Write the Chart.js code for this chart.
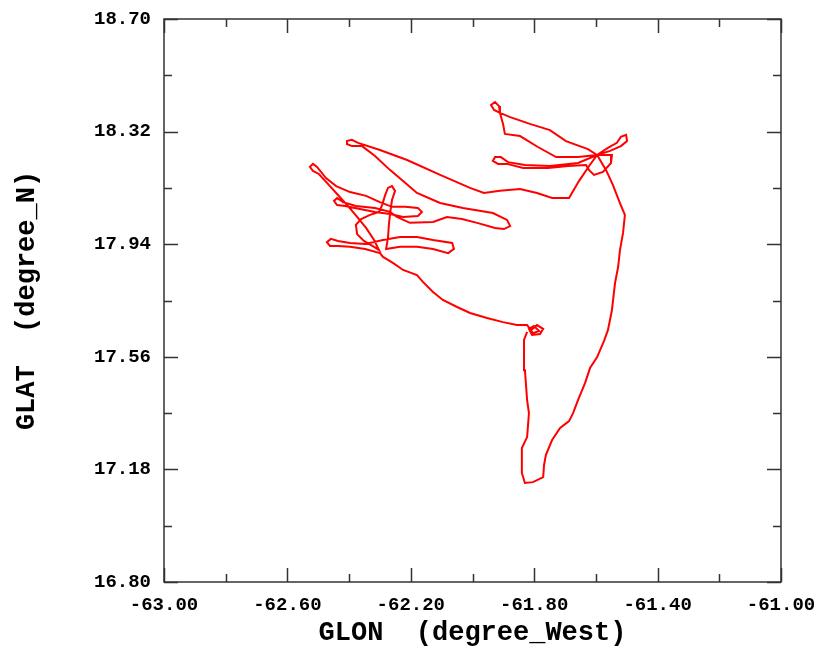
<!DOCTYPE html>
<html>
<head>
<meta charset="utf-8">
<title>GLAT vs GLON</title>
<script src="https://cdn.jsdelivr.net/npm/chart.js@4/dist/chart.umd.min.js"></script>
<style>
  html, body { margin: 0; padding: 0; background: #ffffff; }
  #wrap { width: 820px; height: 651px; }
</style>
</head>
<body>
<div id="wrap"><canvas id="chartCanvas" width="820" height="651"></canvas></div>
<script>
// Flight track (longitude, latitude)
const glon = [
  -61.810, -61.791, -61.771, -61.781, -61.807, -61.817, -61.801, -61.784, -61.804, -61.823,
  -61.856, -61.901, -61.953, -62.008, -62.050, -62.096, -62.128, -62.160, -62.180, -62.225,
  -62.258, -62.290, -62.300, -62.348, -62.397, -62.436, -62.462, -62.472, -62.459, -62.436,
  -62.397, -62.348, -62.290, -62.235, -62.180, -62.128, -62.066, -62.060, -62.079, -62.128,
  -62.180, -62.235, -62.280, -62.274, -62.271, -62.267, -62.261, -62.251, -62.261, -62.274,
  -62.284, -62.293, -62.303, -62.332, -62.361, -62.378, -62.374, -62.352, -62.319, -62.303,
  -62.319, -62.345, -62.374, -62.404, -62.436, -62.468, -62.498, -62.517, -62.527, -62.517,
  -62.504, -62.475, -62.442, -62.397, -62.345, -62.300, -62.261, -62.219, -62.177, -62.164,
  -62.177, -62.225, -62.267, -62.316, -62.365, -62.413, -62.439, -62.449, -62.439, -62.420,
  -62.378, -62.316, -62.267, -62.245, -62.203, -62.128, -62.083, -62.034, -61.985, -61.927,
  -61.898, -61.878, -61.888, -61.934, -62.031, -62.105, -62.180, -62.225, -62.267, -62.316,
  -62.358, -62.391, -62.407, -62.407, -62.391, -62.371, -62.300, -62.212, -62.105, -62.008,
  -61.963, -61.911, -61.846, -61.791, -61.742, -61.687, -61.655, -61.622, -61.596, -61.561,
  -61.532, -61.519, -61.502, -61.499, -61.519, -61.554, -61.596, -61.626, -61.697, -61.749,
  -61.814, -61.878, -61.911, -61.930, -61.940, -61.927, -61.914, -61.911, -61.901, -61.895,
  -61.846, -61.788, -61.729, -61.658, -61.596, -61.548, -61.551, -61.577, -61.606, -61.622,
  -61.632, -61.690, -61.755, -61.836, -61.888, -61.917, -61.934, -61.927, -61.908, -61.885,
  -61.830, -61.749, -61.658, -61.596, -61.567, -61.545, -61.522, -61.506, -61.512, -61.522,
  -61.528, -61.538, -61.548, -61.561, -61.574, -61.596, -61.619, -61.635, -61.658, -61.674,
  -61.687, -61.716, -61.742, -61.762, -61.768, -61.771, -61.804, -61.830, -61.840, -61.840,
  -61.823, -61.817, -61.823, -61.830, -61.833, -61.823
];
const glat = [
  17.650, 17.667, 17.654, 17.637, 17.634, 17.654, 17.664, 17.647, 17.640, 17.667,
  17.667, 17.677, 17.691, 17.708, 17.728, 17.752, 17.779, 17.812, 17.836, 17.853,
  17.877, 17.897, 17.910, 17.924, 17.931, 17.934, 17.934, 17.947, 17.958, 17.951,
  17.944, 17.941, 17.954, 17.964, 17.964, 17.954, 17.944, 17.924, 17.910, 17.924,
  17.931, 17.931, 17.924, 17.961, 18.005, 18.045, 18.089, 18.120, 18.136, 18.130,
  18.103, 18.072, 18.049, 18.039, 18.025, 18.005, 17.974, 17.951, 17.931, 17.920,
  17.954, 17.995, 18.032, 18.069, 18.106, 18.143, 18.177, 18.187, 18.201, 18.211,
  18.201, 18.163, 18.136, 18.116, 18.103, 18.082, 18.066, 18.066, 18.062, 18.049,
  18.035, 18.032, 18.042, 18.049, 18.059, 18.069, 18.072, 18.086, 18.096, 18.082,
  18.069, 18.062, 18.049, 18.032, 18.012, 18.015, 18.032, 18.025, 18.012, 17.995,
  17.991, 18.001, 18.022, 18.045, 18.062, 18.079, 18.113, 18.153, 18.190, 18.238,
  18.271, 18.271, 18.278, 18.288, 18.292, 18.282, 18.258, 18.224, 18.174, 18.130,
  18.113, 18.120, 18.126, 18.113, 18.096, 18.096, 18.153, 18.204, 18.241, 18.265,
  18.282, 18.302, 18.309, 18.288, 18.271, 18.255, 18.241, 18.261, 18.288, 18.325,
  18.346, 18.369, 18.383, 18.393, 18.410, 18.420, 18.406, 18.383, 18.346, 18.312,
  18.305, 18.268, 18.234, 18.234, 18.241, 18.241, 18.214, 18.184, 18.174, 18.190,
  18.207, 18.204, 18.197, 18.197, 18.211, 18.211, 18.221, 18.234, 18.234, 18.217,
  18.207, 18.204, 18.214, 18.241, 18.190, 18.140, 18.079, 18.039, 17.978, 17.920,
  17.863, 17.809, 17.718, 17.650, 17.613, 17.559, 17.522, 17.472, 17.414, 17.370,
  17.343, 17.320, 17.279, 17.229, 17.195, 17.154, 17.137, 17.134, 17.168, 17.252,
  17.289, 17.370, 17.414, 17.515, 17.617, 17.644
];

// Axis ranges and tick steps (labels on every other tick)
const xRange = [-63.0, -61.0];
const yRange = [16.80, 18.70];
const xStep = 0.2;
const yStep = 0.19;

const xTitle = "GLON  (degree_West)";
const yTitle = "GLAT  (degree_N)";

const points = glon.map((lon, i) => ({ x: lon, y: glat[i] }));

// Box round the plot with the ticks pointing inwards, on all four sides
const frameTicks = {
  id: "frameTicks",
  afterDraw(chart) {
    const ctx = chart.ctx;
    const a = chart.chartArea;
    const xs = chart.scales.x;
    const ys = chart.scales.y;
    ctx.save();
    ctx.strokeStyle = "#333333";
    ctx.lineWidth = 1.5;
    ctx.strokeRect(a.left, a.top, a.right - a.left, a.bottom - a.top);
    ctx.beginPath();
    xs.ticks.forEach((t, i) => {
      const px = Math.round(xs.getPixelForValue(t.value)) + 0.5;
      const len = i % 2 === 0 ? 14 : 8;
      ctx.moveTo(px, a.bottom); ctx.lineTo(px, a.bottom - len);
      ctx.moveTo(px, a.top); ctx.lineTo(px, a.top + len);
    });
    ys.ticks.forEach((t, i) => {
      const py = Math.round(ys.getPixelForValue(t.value)) + 0.5;
      const len = i % 2 === 0 ? 14 : 8;
      ctx.moveTo(a.left, py); ctx.lineTo(a.left + len, py);
      ctx.moveTo(a.right, py); ctx.lineTo(a.right - len, py);
    });
    ctx.stroke();
    ctx.restore();
  }
};

// fixed axis sizes so the plot box lands where it does in the original
function fixBox(scale, w, h) {
  if (w) scale.width = w;
  if (h) scale.height = h;
  scale.paddingLeft = 0;
  scale.paddingRight = 0;
  scale.paddingTop = 0;
  scale.paddingBottom = 0;
}

const tickFont = { family: "'Liberation Mono', 'Courier New', monospace", size: 19, weight: "bold" };
const titleFont = { family: "'Liberation Mono', 'Courier New', monospace", size: 27, weight: "bold" };

// Draw Chart
const ctx = document.getElementById("chartCanvas").getContext("2d");
new Chart(ctx, {
  type: "scatter",
  data: {
    datasets: [{
      data: points,
      showLine: true,
      borderColor: "#ff0000",
      borderWidth: 2,
      pointRadius: 0,
      pointHoverRadius: 0,
      tension: 0,
      fill: false
    }]
  },
  options: {
    responsive: false,
    animation: false,
    events: [],
    layout: { padding: { left: 0, top: 19, right: 39, bottom: 0 } },
    plugins: {
      legend: { display: false },
      tooltip: { enabled: false }
    },
    scales: {
      x: {
        type: "linear",
        min: xRange[0],
        max: xRange[1],
        grid: { display: false, drawTicks: false },
        border: { display: false },
        ticks: {
          stepSize: xStep,
          autoSkip: false,
          maxRotation: 0,
          padding: 12,
          color: "#000000",
          font: tickFont,
          callback: (v, i) => (i % 2 === 0 ? Number(v).toFixed(2) : "")
        },
        title: {
          display: true,
          text: xTitle,
          color: "#000000",
          font: titleFont,
          padding: { top: 0, bottom: 2 }
        },
        afterFit: (scale) => fixBox(scale, 0, 69)
      },
      y: {
        type: "linear",
        min: yRange[0],
        max: yRange[1],
        grid: { display: false, drawTicks: false },
        border: { display: false },
        ticks: {
          stepSize: yStep,
          autoSkip: false,
          padding: 13,
          color: "#000000",
          font: tickFont,
          callback: (v, i) => (i % 2 === 0 ? Number(v).toFixed(2) : "")
        },
        title: {
          display: true,
          text: yTitle,
          color: "#000000",
          font: titleFont,
          padding: { top: 11, bottom: 0 }
        },
        afterFit: (scale) => fixBox(scale, 164, 0)
      }
    }
  },
  plugins: [frameTicks]
});
</script>
</body>
</html>
